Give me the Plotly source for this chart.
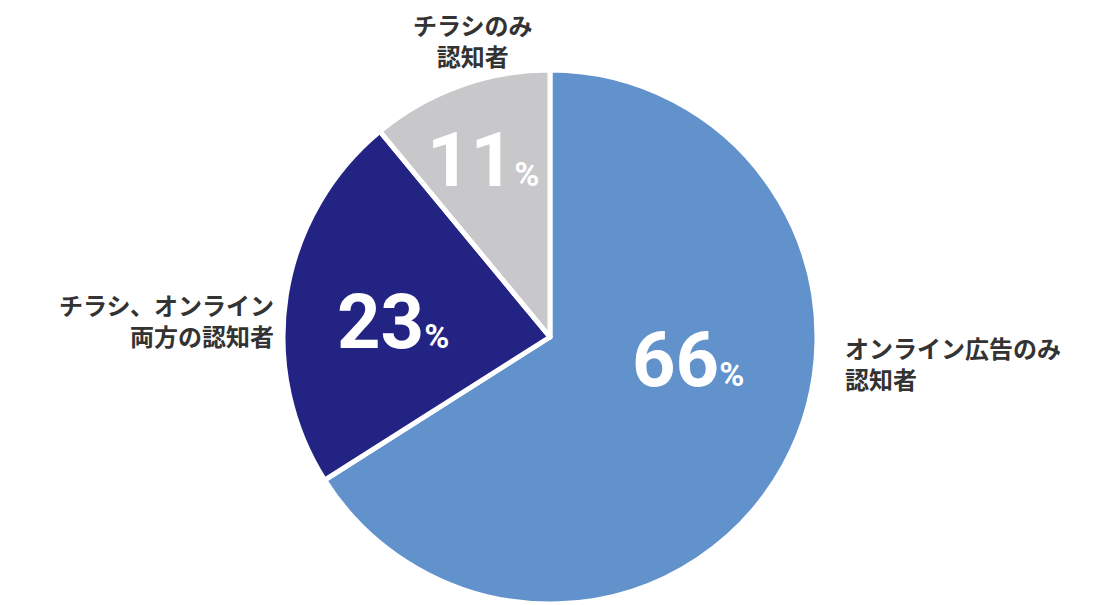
import plotly.graph_objects as go

labels = ["オンライン広告のみ認知者", "チラシ、オンライン両方の認知者", "チラシのみ認知者"]
values = [66, 23, 11]
colors = ["#6292cc", "#222382", "#c8c8ca"]
outside_text = ["オンライン広告のみ<br>認知者", "チラシ、オンライン<br>両方の認知者", "チラシのみ<br>認知者"]

W, H = 1100, 605
cx, cy, r = 542, 329, 267

fig = go.Figure(go.Pie(
    labels=labels, values=values, sort=False, direction="clockwise", rotation=0,
    marker=dict(colors=colors, line=dict(color="white", width=5)),
    textinfo="none",
    domain=dict(x=[(cx - r) / W, (cx + r) / W], y=[(H - cy - r) / H, (H - cy + r) / H]),
    hoverinfo="label+percent", showlegend=False,
))

# percentage labels placed inside the slices
pct_pos = [(680, 352), (385, 314), (475, 152)]
for v, (px, py) in zip(values, pct_pos):
    fig.add_annotation(x=px / W, y=1 - py / H, showarrow=False, xanchor="center", yanchor="middle",
                       text=f"<b>{v}<span style='font-size:34px'>%</span></b>",
                       font=dict(family="Roboto", size=76, color="white"))

label_font = dict(family="Noto Sans CJK JP", size=24, color="#333333")
fig.add_annotation(x=835 / W, y=1 - 355 / H, text="<b>" + outside_text[0] + "</b>",
                   xanchor="left", yanchor="middle", align="left", showarrow=False, font=label_font)
fig.add_annotation(x=268 / W, y=1 - 312 / H, text="<b>" + outside_text[1] + "</b>",
                   xanchor="right", yanchor="middle", align="right", showarrow=False, font=label_font)
fig.add_annotation(x=465 / W, y=1 - 32 / H, text="<b>" + outside_text[2] + "</b>",
                   xanchor="center", yanchor="middle", align="center", showarrow=False, font=label_font)

fig.update_layout(width=W, height=H, margin=dict(l=0, r=0, t=0, b=0),
                  paper_bgcolor="white", plot_bgcolor="white")
fig.write_html("out.html")
